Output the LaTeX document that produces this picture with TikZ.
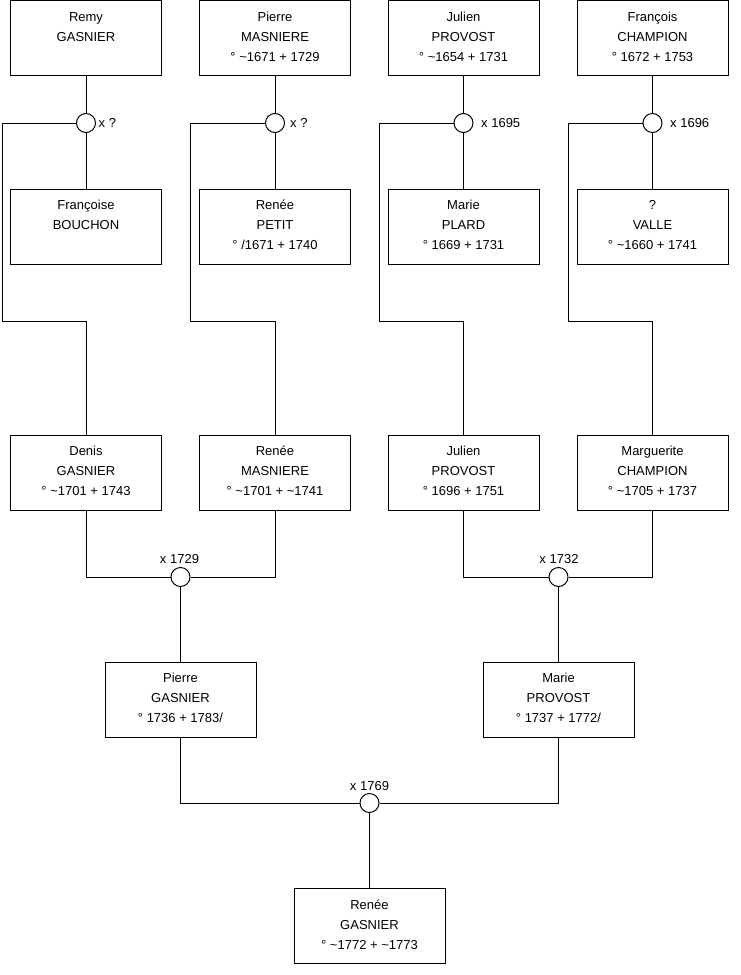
\documentclass[tikz,border=0pt]{standalone}
\usepackage{fontspec}
\setmainfont{Liberation Sans}
\newcommand{\ptext}[1]{\parbox[c][75pt][t]{151pt}{\centering\vspace*{6.7pt}\strut #1}}
\begin{document}
\begin{tikzpicture}[x=1pt,y=-1pt,
  person/.style={draw=black, line width=1pt, rectangle, inner sep=0pt, minimum width=151pt, minimum height=75pt, font=\fontsize{13}{20}\selectfont},
  union/.style={draw=black, line width=1pt, circle, inner sep=0pt, minimum size=19pt},
  lbl/.style={inner sep=0pt, font=\fontsize{13}{16}\selectfont},
  link/.style={draw=black, line width=1pt}]
\useasboundingbox (0,0) rectangle (740,975);
% row 1
\node[person] (remy) at (86,38) {\ptext{Remy\\GASNIER}};
\node[person] (pierrem) at (275,38) {\ptext{Pierre\\MASNIERE\\° \char`\~1671 + 1729}};
\node[person] (julien) at (463.5,38) {\ptext{Julien\\PROVOST\\° \char`\~1654 + 1731}};
\node[person] (francois) at (652.5,38) {\ptext{François\\CHAMPION\\° 1672 + 1753}};
% row 2
\node[person] (francoise) at (86,226.5) {\ptext{Françoise\\BOUCHON}};
\node[person] (reneep) at (275,226.5) {\ptext{Renée\\PETIT\\° /1671 + 1740}};
\node[person] (mariepl) at (463.5,226.5) {\ptext{Marie\\PLARD\\° 1669 + 1731}};
\node[person] (valle) at (652.5,226.5) {\ptext{?\\VALLE\\° \char`\~1660 + 1741}};
% row 3
\node[person] (denis) at (86,472.5) {\ptext{Denis\\GASNIER\\° \char`\~1701 + 1743}};
\node[person] (reneem) at (275,472.5) {\ptext{Renée\\MASNIERE\\° \char`\~1701 + \char`\~1741}};
\node[person] (julienp) at (463.5,472.5) {\ptext{Julien\\PROVOST\\° 1696 + 1751}};
\node[person] (marguerite) at (652.5,472.5) {\ptext{Marguerite\\CHAMPION\\° \char`\~1705 + 1737}};
% row 4
\node[person] (pierreg) at (180.5,699.5) {\ptext{Pierre\\GASNIER\\° 1736 + 1783/}};
\node[person] (mariepr) at (558.5,699.5) {\ptext{Marie\\PROVOST\\° 1737 + 1772/}};
% row 5
\node[person] (reneeg) at (369.5,926) {\ptext{Renée\\GASNIER\\° \char`\~1772 + \char`\~1773}};
% unions
\node[union] (u1) at (86,123) {};
\node[union] (u2) at (275,123) {};
\node[union] (u3) at (463.5,123) {};
\node[union] (u4) at (652.5,123) {};
\node[union] (u5) at (180.5,577) {};
\node[union] (u6) at (558.5,577) {};
\node[union] (u7) at (369.5,803) {};
% labels
\node[lbl, anchor=west] (l1) at (98.5,123) {x ?};
\node[lbl, anchor=west] (l2) at (290,123) {x ?};
\node[lbl, anchor=west] (l3) at (481,123) {x 1695};
\node[lbl, anchor=west] (l4) at (670,123) {x 1696};
\node[lbl] (l5) at (179.5,559) {x 1729};
\node[lbl] (l6) at (559,559) {x 1732};
\node[lbl] (l7) at (369.5,786) {x 1769};
% bend coordinates
\coordinate (b1) at (2,321.5);
\coordinate (b2) at (190.5,321.5);
\coordinate (b3) at (379,321.5);
\coordinate (b4) at (568,321.5);
% connectors
\draw[link] (remy.south) -- (u1.north);
\draw[link] (u1.south) -- (francoise.north);
\draw[link] (pierrem.south) -- (u2.north);
\draw[link] (u2.south) -- (reneep.north);
\draw[link] (julien.south) -- (u3.north);
\draw[link] (u3.south) -- (mariepl.north);
\draw[link] (francois.south) -- (u4.north);
\draw[link] (u4.south) -- (valle.north);
\draw[link] (u1.west) -| (b1) -| (denis.north);
\draw[link] (u2.west) -| (b2) -| (reneem.north);
\draw[link] (u3.west) -| (b3) -| (julienp.north);
\draw[link] (u4.west) -| (b4) -| (marguerite.north);
\draw[link] (denis.south) |- (u5.west);
\draw[link] (reneem.south) |- (u5.east);
\draw[link] (julienp.south) |- (u6.west);
\draw[link] (marguerite.south) |- (u6.east);
\draw[link] (u5.south) -- (pierreg.north);
\draw[link] (u6.south) -- (mariepr.north);
\draw[link] (pierreg.south) |- (u7.west);
\draw[link] (mariepr.south) |- (u7.east);
\draw[link] (u7.south) -- (reneeg.north);
\end{tikzpicture}
\end{document}
